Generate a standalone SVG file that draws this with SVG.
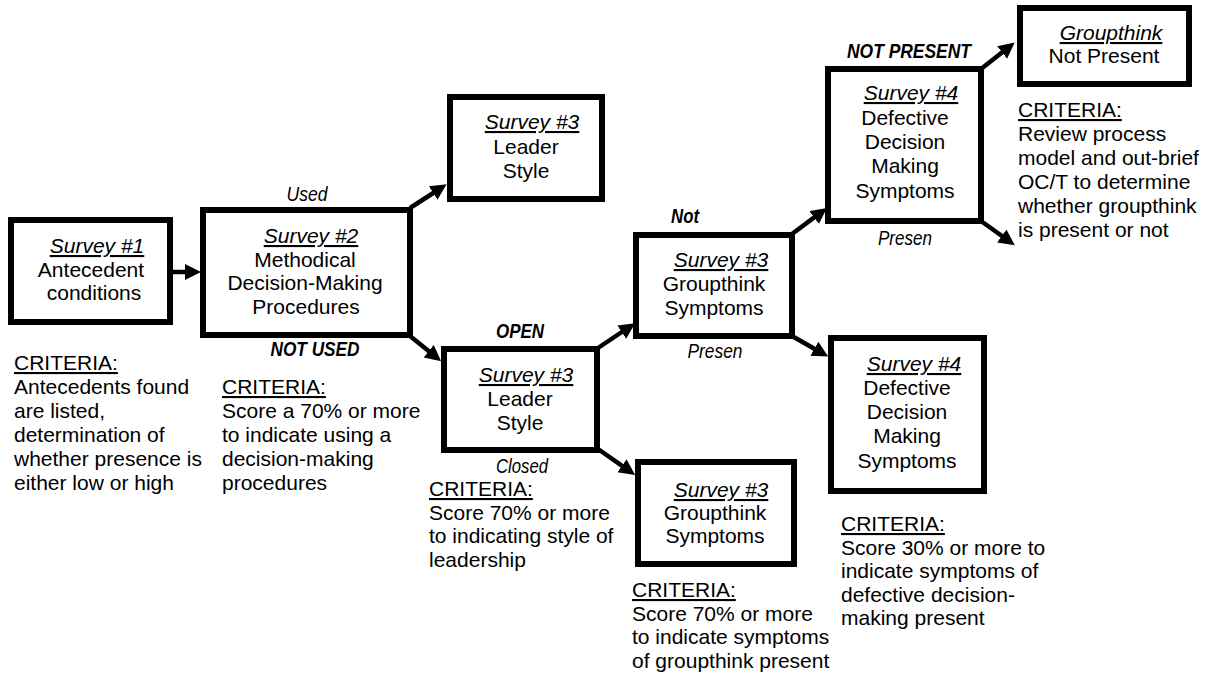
<svg xmlns="http://www.w3.org/2000/svg" width="1220" height="677" viewBox="0 0 1220 677">
<style>
.box{fill:#fff;stroke:#000;stroke-width:6}
.t{font-family:"Liberation Sans",Arial,sans-serif;font-size:21px;fill:#000}
.c{text-anchor:middle}
.s{font-style:italic;text-decoration:underline}
.u{text-decoration:underline}
.lab{font-family:"Liberation Sans",Arial,sans-serif;font-size:20px;font-style:italic;fill:#000;text-anchor:middle}
.b{font-weight:bold}
.con{stroke:#000;stroke-width:4.5;fill:none;marker-end:url(#ah)}
</style>
<defs>
<marker id="ah" markerUnits="userSpaceOnUse" markerWidth="17" markerHeight="17" refX="1" refY="8" orient="auto">
<path d="M0,0 L16,8 L0,16 z" fill="#000"/>
</marker>
</defs>
<rect width="1220" height="677" fill="#fff"/>
<g id="connectors">
<line class="con" x1="170" y1="272" x2="186" y2="272"/>
<line class="con" x1="410" y1="208" x2="434" y2="192.5"/>
<line class="con" x1="410" y1="336" x2="429.5" y2="351.8"/>
<line class="con" x1="598" y1="348" x2="622.6" y2="331.5"/>
<line class="con" x1="598" y1="449" x2="622.8" y2="466.3"/>
<line class="con" x1="792" y1="234" x2="814.9" y2="216.9"/>
<line class="con" x1="792" y1="336" x2="815.2" y2="349.2"/>
<line class="con" x1="981" y1="69" x2="1002.9" y2="51.8"/>
<line class="con" x1="981" y1="221" x2="1002.6" y2="236.5"/>
</g>
<g id="labels">
<text class="lab" x="307" y="201" textLength="41" lengthAdjust="spacingAndGlyphs">Used</text>
<text class="lab b" x="315" y="356" textLength="89" lengthAdjust="spacingAndGlyphs">NOT USED</text>
<text class="lab b" x="520" y="338" textLength="48" lengthAdjust="spacingAndGlyphs">OPEN</text>
<text class="lab" x="522" y="473" textLength="52" lengthAdjust="spacingAndGlyphs">Closed</text>
<text class="lab b" x="685" y="223" textLength="28" lengthAdjust="spacingAndGlyphs">Not</text>
<text class="lab" x="715" y="358" textLength="55" lengthAdjust="spacingAndGlyphs">Presen</text>
<text class="lab b" x="909" y="58" textLength="124" lengthAdjust="spacingAndGlyphs">NOT PRESENT</text>
<text class="lab" x="905" y="245" textLength="54" lengthAdjust="spacingAndGlyphs">Presen</text>
</g>
<g id="survey1">
<rect class="box" x="11" y="220" width="159" height="102"/>
<text class="t c s" x="97" y="253">Survey #1</text>
<text class="t c" x="91" y="277">Antecedent</text>
<text class="t c" x="94" y="300">conditions</text>
</g>
<g id="survey2">
<rect class="box" x="203" y="210" width="207" height="125"/>
<text class="t c s" x="311" y="243">Survey #2</text>
<text class="t c" x="305" y="267">Methodical</text>
<text class="t c" x="305" y="290">Decision-Making</text>
<text class="t c" x="306" y="314">Procedures</text>
</g>
<g id="leader-top">
<rect class="box" x="450" y="97" width="152" height="102"/>
<text class="t c s" x="532" y="129">Survey #3</text>
<text class="t c" x="526" y="154">Leader</text>
<text class="t c" x="526" y="178">Style</text>
</g>
<g id="leader-mid">
<rect class="box" x="444" y="349" width="153" height="101"/>
<text class="t c s" x="526" y="382">Survey #3</text>
<text class="t c" x="520" y="406">Leader</text>
<text class="t c" x="520" y="430">Style</text>
</g>
<g id="groupthink-top">
<rect class="box" x="636" y="235" width="156" height="101"/>
<text class="t c s" x="721" y="267">Survey #3</text>
<text class="t c" x="714" y="291">Groupthink</text>
<text class="t c" x="714" y="315">Symptoms</text>
</g>
<g id="groupthink-low">
<rect class="box" x="638" y="462" width="156" height="102"/>
<text class="t c s" x="721" y="497">Survey #3</text>
<text class="t c" x="715" y="520">Groupthink</text>
<text class="t c" x="715" y="543">Symptoms</text>
</g>
<g id="defective-top">
<rect class="box" x="828" y="69" width="153" height="152"/>
<text class="t c s" x="911" y="100">Survey #4</text>
<text class="t c" x="905" y="125">Defective</text>
<text class="t c" x="905" y="149">Decision</text>
<text class="t c" x="905" y="173">Making</text>
<text class="t c" x="905" y="198">Symptoms</text>
</g>
<g id="defective-low">
<rect class="box" x="831" y="338" width="153" height="153"/>
<text class="t c s" x="914" y="371">Survey #4</text>
<text class="t c" x="907" y="395">Defective</text>
<text class="t c" x="907" y="419">Decision</text>
<text class="t c" x="907" y="443">Making</text>
<text class="t c" x="907" y="468">Symptoms</text>
</g>
<g id="not-present">
<rect class="box" x="1020" y="8" width="169" height="76"/>
<text class="t c s" x="1111" y="40">Groupthink</text>
<text class="t c" x="1104" y="63">Not Present</text>
</g>
<g id="criteria1">
<text class="t u" x="14" y="370">CRITERIA:</text>
<text class="t" x="14" y="394">Antecedents found</text>
<text class="t" x="14" y="418">are listed,</text>
<text class="t" x="14" y="442">determination of</text>
<text class="t" x="14" y="466">whether presence is</text>
<text class="t" x="14" y="490">either low or high</text>
</g>
<g id="criteria2">
<text class="t u" x="222" y="394">CRITERIA:</text>
<text class="t" x="222" y="418">Score a 70% or more</text>
<text class="t" x="222" y="442">to indicate using a</text>
<text class="t" x="222" y="466">decision-making</text>
<text class="t" x="222" y="490">procedures</text>
</g>
<g id="criteria3">
<text class="t u" x="429" y="496">CRITERIA:</text>
<text class="t" x="429" y="519.5">Score 70% or more</text>
<text class="t" x="429" y="543">to indicating style of</text>
<text class="t" x="429" y="566.5">leadership</text>
</g>
<g id="criteria4">
<text class="t u" x="632" y="597">CRITERIA:</text>
<text class="t" x="632" y="620.5">Score 70% or more</text>
<text class="t" x="632" y="644">to indicate symptoms</text>
<text class="t" x="632" y="667.5">of groupthink present</text>
</g>
<g id="criteria5">
<text class="t u" x="841" y="531">CRITERIA:</text>
<text class="t" x="841" y="554.5">Score 30% or more to</text>
<text class="t" x="841" y="578">indicate symptoms of</text>
<text class="t" x="841" y="601.5">defective decision-</text>
<text class="t" x="841" y="625">making present</text>
</g>
<g id="criteria6">
<text class="t u" x="1018" y="117">CRITERIA:</text>
<text class="t" x="1018" y="141">Review process</text>
<text class="t" x="1018" y="165">model and out-brief</text>
<text class="t" x="1018" y="189">OC/T to determine</text>
<text class="t" x="1018" y="213">whether groupthink</text>
<text class="t" x="1018" y="237">is present or not</text>
</g>
</svg>
